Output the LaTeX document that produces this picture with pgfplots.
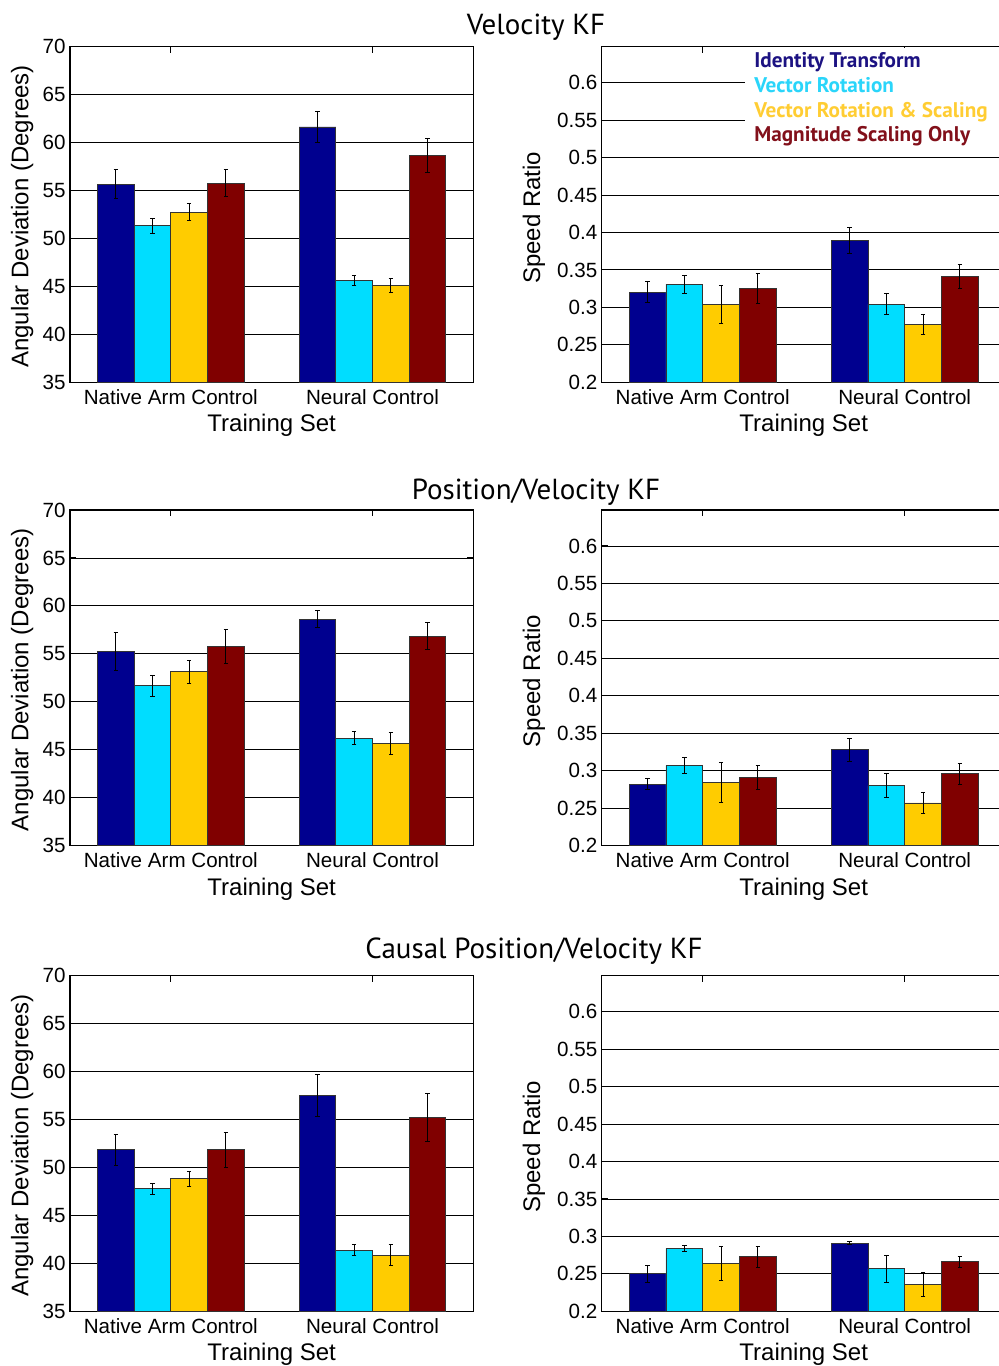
\documentclass[border=0pt]{standalone}
\usepackage{pgfplots}
\pgfplotsset{compat=1.18}
\usepackage{pgfplotstable}
\usepackage{fontspec}
\setmainfont{Liberation Sans}
\newfontfamily\myriad{PT Sans}
\definecolor{cB}{HTML}{00008F}
\definecolor{cC}{HTML}{00DDFF}
\definecolor{cY}{HTML}{FFCC00}
\definecolor{cR}{HTML}{800000}
\definecolor{lB}{HTML}{1C1282}
\definecolor{lC}{HTML}{2AD5FA}
\definecolor{lY}{HTML}{FFCD33}
\definecolor{lR}{HTML}{82101A}

\pgfplotstableread{
x b be c ce y ye r re
1 55.65 1.5 51.34 0.78 52.76 0.92 55.75 1.42
2 61.63 1.6 45.64 0.5 45.11 0.72 58.64 1.78
}\velang
\pgfplotstableread{
x b be c ce y ye r re
1 0.320 0.014 0.331 0.012 0.304 0.025 0.325 0.020
2 0.389 0.017 0.304 0.014 0.277 0.013 0.341 0.016
}\velspd
\pgfplotstableread{
x b be c ce y ye r re
1 55.25 1.95 51.67 1.1 53.13 1.22 55.77 1.81
2 58.63 0.9 46.2 0.7 45.65 1.11 56.85 1.43
}\pvang
\pgfplotstableread{
x b be c ce y ye r re
1 0.282 0.007 0.307 0.011 0.284 0.027 0.291 0.016
2 0.328 0.0155 0.280 0.016 0.257 0.014 0.296 0.014
}\pvspd
\pgfplotstableread{
x b be c ce y ye r re
1 51.84 1.63 47.78 0.55 48.82 0.76 51.84 1.8
2 57.5 2.19 41.35 0.57 40.83 1.1 55.21 2.53
}\cpvang
\pgfplotstableread{
x b be c ce y ye r re
1 0.250 0.0116 0.284 0.0045 0.264 0.023 0.273 0.014
2 0.291 0.0022 0.257 0.018 0.236 0.0156 0.266 0.0072
}\cpvspd

\pgfplotsset{
  panel/.style={
    scale only axis, height=167.8pt,
    xmin=0.5, xmax=2.5, xtick={1,2},
    xticklabels={Native Arm Control, Neural Control},
    ymajorgrids, grid style={black, line width=0.45pt},
    axis line style={black, line width=0.6pt},
    major tick style={black, line width=0.5pt},
    major tick length=3pt, tick align=inside,
    tick label style={font=\fontsize{10.3}{12}\selectfont},
    /pgf/number format/assume math mode=true,
    xticklabel style={anchor=base, yshift=-10.85pt},
    yticklabel style={anchor=east, inner sep=0pt, xshift=-2pt},
    label style={font=\fontsize{12}{14}\selectfont},
    xlabel={Training Set},
    xlabel style={at={(axis description cs:0.5,-0.148)}, anchor=base},
  },
  leftp/.style={panel, width=201.65pt, ymin=35, ymax=70, ytick={35,40,...,70},
    ylabel={Angular Deviation (Degrees)},
    ylabel style={at={(axis description cs:-0.1029,0.494)}, anchor=base}},
  rightp/.style={panel, width=202pt, ymin=0.2, ymax=0.648,
    ytick={0.2,0.25,0.3,0.35,0.4,0.45,0.5,0.55,0.6},
    yticklabels={0.2,0.25,0.3,0.35,0.4,0.45,0.5,0.55,0.6},
    ylabel={Speed Ratio},
    ylabel style={at={(axis description cs:-0.1527,0.49)}, anchor=base}},
  onebar/.style={ybar, bar width=0.182, draw=black!80, line width=0.4pt},
  errs/.style={draw=none, mark=none, forget plot,
    error bars/.cd, y dir=both, y explicit,
    error bar style={draw=black, solid, line width=0.5pt},
    error mark options={rotate=90, mark size=1.1pt, draw=black, line width=0.5pt},
    /pgfplots/.cd},
}
\newcommand\bars[1]{%
  \addplot[bar shift=-0.273, fill=cB, onebar] table[x=x, y=b]{#1};
  \addplot[bar shift=-0.091, fill=cC, onebar] table[x=x, y=c]{#1};
  \addplot[bar shift=0.091, fill=cY, onebar] table[x=x, y=y]{#1};
  \addplot[bar shift=0.273, fill=cR, onebar] table[x=x, y=r]{#1};
  \addplot[errs] table[x expr=\thisrow{x}-0.273, y=b, y error=be]{#1};
  \addplot[errs] table[x expr=\thisrow{x}-0.091, y=c, y error=ce]{#1};
  \addplot[errs] table[x expr=\thisrow{x}+0.091, y=y, y error=ye]{#1};
  \addplot[errs] table[x expr=\thisrow{x}+0.273, y=r, y error=re]{#1};
}

\begin{document}
\begin{tikzpicture}
\tikzset{ttl/.style={anchor=base, font=\myriad\fontsize{14.5}{16}\selectfont}}
% Row 1
\begin{axis}[leftp, at={(35pt,-23.35pt)}, anchor=north west]
\bars{\velang}
\end{axis}
\begin{axis}[rightp, at={(300.85pt,-23.35pt)}, anchor=north west]
\bars{\velspd}
\end{axis}
\fill[white] (372.5pt,-24pt) rectangle (505pt,-76pt);
\begin{scope}[every node/.style={anchor=base west, inner sep=0pt, font=\myriad\bfseries\fontsize{10.6}{12}\selectfont}]
\node[text=lB] at (377pt,-33.85pt) {Identity Transform};
\node[text=lC] at (377pt,-46.2pt) {Vector Rotation};
\node[text=lY] at (377pt,-58.65pt) {Vector Rotation \& Scaling};
\node[text=lR] at (377pt,-70.85pt) {Magnitude Scaling Only};
\end{scope}
\node[ttl] at (268pt,-17pt) {Velocity KF};
% Row 2
\begin{axis}[leftp, at={(35pt,-255pt)}, anchor=north west]
\bars{\pvang}
\end{axis}
\begin{axis}[rightp, at={(300.85pt,-255pt)}, anchor=north west]
\bars{\pvspd}
\end{axis}
\node[ttl] at (268pt,-249.5pt) {Position/Velocity KF};
% Row 3
\begin{axis}[leftp, at={(35pt,-487.85pt)}, anchor=north west]
\bars{\cpvang}
\end{axis}
\begin{axis}[rightp, at={(300.85pt,-487.85pt)}, anchor=north west]
\bars{\cpvspd}
\end{axis}
\node[ttl] at (267pt,-479pt) {Causal Position/Velocity KF};
\pgfresetboundingbox
\path[use as bounding box] (0,0) rectangle (499pt,-683pt);
\end{tikzpicture}
\end{document}
